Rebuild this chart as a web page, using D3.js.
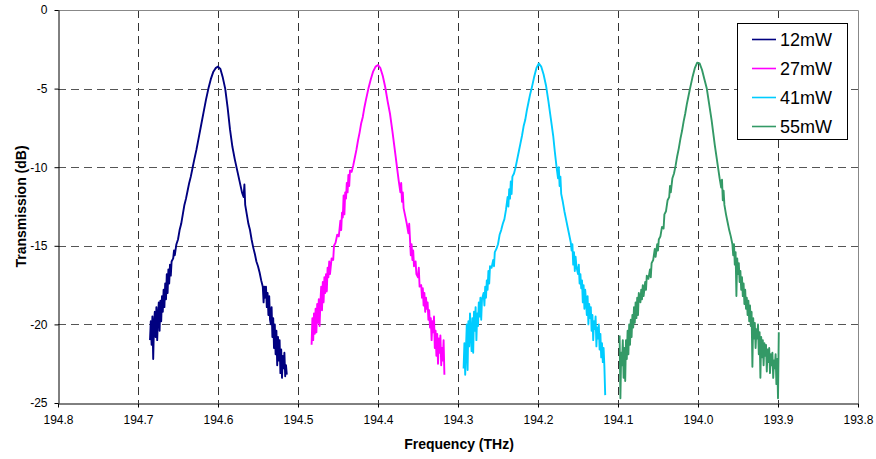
<!DOCTYPE html>
<html><head><meta charset="utf-8">
<script src="https://cdn.jsdelivr.net/npm/d3@7/dist/d3.min.js"></script>
<style>body{margin:0;background:#fff}svg{display:block}</style>
</head><body>
<svg id="c" width="876" height="459"></svg>
<script>
// ---- data (frequency THz, transmission dB) ----
const seriesNames = ["12mW","27mW","41mW","55mW"];
const xTicks = [194.8,194.7,194.6,194.5,194.4,194.3,194.2,194.1,194.0,193.9,193.8];
const xTickLabels = ["194.8","194.7","194.6","194.5","194.4","194.3","194.2","194.1","194.0","193.9","193.8"];
const yTicks = [0,-5,-10,-15,-20,-25];
const yTickLabels = ["0","-5","-10","-15","-20","-25"];

const s12mW = [[194.685,-21.0],[194.684,-19.8],[194.683,-21.3],[194.682,-19.5],[194.681,-22.2],[194.680,-20.0],[194.679,-19.2],[194.678,-20.8],[194.677,-18.9],[194.676,-21.0],[194.675,-19.5],[194.674,-18.6],[194.673,-20.4],[194.672,-18.5],[194.671,-19.8],[194.670,-18.2],[194.669,-19.2],[194.668,-17.8],[194.667,-18.9],[194.666,-17.4],[194.665,-18.4],[194.664,-16.8],[194.663,-18.0],[194.662,-16.5],[194.661,-17.4],[194.660,-16.2],[194.659,-16.9],[194.658,-16.0],[194.656,-15.8],[194.655,-15.3],[194.654,-15.6],[194.652,-14.9],[194.650,-14.6],[194.648,-14.0],[194.646,-13.6],[194.644,-13.0],[194.642,-12.4],[194.640,-12.0],[194.638,-11.5],[194.636,-11.0],[194.634,-10.6],[194.632,-10.1],[194.630,-9.6],[194.627,-8.9],[194.624,-8.1],[194.621,-7.3],[194.618,-6.5],[194.615,-5.7],[194.612,-5.0],[194.609,-4.4],[194.606,-3.95],[194.603,-3.7],[194.600,-3.6],[194.597,-3.75],[194.594,-4.3],[194.591,-5.0],[194.588,-6.2],[194.585,-7.6],[194.582,-8.7],[194.579,-9.5],[194.576,-10.2],[194.573,-10.9],[194.570,-11.6],[194.568,-11.9],[194.567,-11.1],[194.566,-12.4],[194.564,-13.0],[194.562,-13.6],[194.560,-14.0],[194.558,-14.6],[194.556,-15.1],[194.554,-15.5],[194.552,-16.0],[194.550,-16.3],[194.548,-16.7],[194.546,-17.2],[194.544,-17.6],[194.543,-18.6],[194.542,-17.6],[194.541,-18.3],[194.540,-17.6],[194.539,-18.9],[194.538,-18.0],[194.537,-19.4],[194.536,-18.2],[194.535,-19.7],[194.534,-20.0],[194.533,-18.9],[194.532,-20.8],[194.531,-19.6],[194.530,-21.5],[194.529,-20.0],[194.528,-21.9],[194.527,-20.4],[194.526,-22.6],[194.525,-20.8],[194.524,-22.3],[194.523,-21.0],[194.522,-23.1],[194.521,-21.6],[194.520,-23.4],[194.519,-22.0],[194.518,-22.8],[194.517,-21.8],[194.516,-23.3],[194.515,-22.6],[194.514,-23.2]];

const s27mW = [[194.483,-21.3],[194.482,-19.6],[194.481,-21.0],[194.480,-19.3],[194.479,-20.6],[194.478,-19.0],[194.477,-20.5],[194.476,-18.7],[194.475,-19.9],[194.474,-18.4],[194.473,-20.1],[194.472,-18.6],[194.471,-17.6],[194.470,-19.1],[194.469,-17.3],[194.468,-18.6],[194.467,-17.0],[194.466,-18.0],[194.465,-16.8],[194.464,-17.9],[194.463,-16.4],[194.462,-17.0],[194.461,-16.0],[194.460,-16.8],[194.458,-15.8],[194.456,-15.9],[194.455,-15.0],[194.453,-14.8],[194.451,-14.3],[194.449,-14.4],[194.447,-13.4],[194.446,-14.0],[194.445,-12.9],[194.444,-13.2],[194.443,-11.8],[194.442,-13.0],[194.441,-11.6],[194.440,-12.0],[194.439,-11.0],[194.438,-11.6],[194.437,-10.5],[194.436,-11.2],[194.435,-10.2],[194.433,-10.3],[194.431,-9.9],[194.429,-9.4],[194.427,-8.9],[194.425,-8.3],[194.423,-7.8],[194.421,-7.2],[194.419,-6.8],[194.417,-6.2],[194.415,-5.7],[194.412,-5.0],[194.409,-4.4],[194.406,-3.9],[194.403,-3.6],[194.400,-3.5],[194.397,-3.7],[194.394,-4.2],[194.391,-4.9],[194.388,-5.8],[194.385,-6.6],[194.382,-7.7],[194.380,-8.5],[194.378,-9.3],[194.376,-10.1],[194.374,-10.9],[194.372,-11.6],[194.371,-11.0],[194.370,-12.2],[194.369,-11.6],[194.368,-12.6],[194.366,-13.1],[194.364,-13.6],[194.362,-14.2],[194.361,-13.6],[194.360,-14.6],[194.359,-15.6],[194.358,-14.9],[194.357,-15.9],[194.356,-15.3],[194.355,-16.3],[194.353,-16.0],[194.352,-16.8],[194.350,-17.0],[194.349,-16.4],[194.348,-17.6],[194.346,-17.5],[194.345,-18.3],[194.344,-17.7],[194.343,-18.8],[194.342,-18.0],[194.341,-19.2],[194.340,-18.3],[194.339,-19.0],[194.338,-18.6],[194.337,-19.7],[194.336,-19.1],[194.335,-20.2],[194.334,-19.6],[194.333,-21.0],[194.332,-19.8],[194.331,-20.5],[194.330,-19.5],[194.329,-21.5],[194.328,-20.4],[194.327,-22.0],[194.326,-20.6],[194.325,-22.5],[194.324,-20.9],[194.323,-21.8],[194.322,-20.7],[194.321,-22.6],[194.320,-21.5],[194.319,-22.3],[194.318,-21.0],[194.317,-23.2]];

const s41mW = [[194.293,-22.8],[194.292,-21.2],[194.291,-23.2],[194.290,-21.5],[194.289,-20.0],[194.288,-22.9],[194.287,-19.8],[194.286,-21.4],[194.285,-19.3],[194.284,-20.6],[194.283,-21.7],[194.282,-19.6],[194.281,-21.8],[194.280,-19.2],[194.279,-20.4],[194.278,-18.9],[194.277,-21.0],[194.276,-19.3],[194.275,-20.1],[194.274,-18.6],[194.273,-19.5],[194.272,-18.3],[194.271,-19.7],[194.270,-18.4],[194.268,-18.0],[194.267,-18.8],[194.266,-17.6],[194.265,-18.3],[194.264,-17.2],[194.263,-17.8],[194.262,-16.6],[194.261,-17.4],[194.260,-16.3],[194.258,-16.4],[194.256,-15.9],[194.255,-16.3],[194.254,-15.4],[194.252,-15.2],[194.250,-14.9],[194.248,-14.3],[194.246,-14.0],[194.244,-13.6],[194.242,-13.3],[194.240,-12.7],[194.238,-11.9],[194.237,-12.5],[194.236,-11.4],[194.235,-12.0],[194.234,-10.9],[194.233,-11.7],[194.232,-10.6],[194.230,-10.4],[194.228,-10.0],[194.226,-9.5],[194.224,-9.0],[194.222,-8.5],[194.220,-8.0],[194.218,-7.4],[194.216,-7.0],[194.214,-6.4],[194.212,-5.9],[194.210,-5.4],[194.208,-5.0],[194.205,-4.3],[194.202,-3.7],[194.199,-3.4],[194.196,-3.6],[194.193,-4.1],[194.190,-4.8],[194.187,-5.8],[194.184,-6.9],[194.181,-8.0],[194.179,-9.0],[194.177,-9.9],[194.175,-10.7],[194.174,-10.0],[194.173,-11.2],[194.172,-10.6],[194.171,-11.7],[194.169,-12.2],[194.167,-12.8],[194.165,-13.3],[194.163,-13.8],[194.161,-14.3],[194.159,-14.8],[194.158,-15.3],[194.157,-14.9],[194.156,-16.2],[194.155,-15.4],[194.154,-16.6],[194.153,-15.7],[194.152,-16.3],[194.150,-16.8],[194.149,-16.2],[194.148,-17.4],[194.147,-16.8],[194.146,-17.7],[194.145,-17.2],[194.144,-18.6],[194.143,-17.5],[194.142,-19.0],[194.141,-17.8],[194.140,-18.5],[194.139,-19.4],[194.138,-18.2],[194.137,-20.0],[194.136,-18.7],[194.135,-19.6],[194.134,-18.9],[194.133,-20.4],[194.132,-19.4],[194.131,-21.0],[194.130,-19.8],[194.129,-20.3],[194.128,-19.5],[194.127,-21.4],[194.126,-20.2],[194.125,-20.9],[194.124,-20.0],[194.123,-21.6],[194.122,-20.6],[194.121,-22.1],[194.120,-21.2],[194.119,-22.4],[194.118,-21.5],[194.117,-22.7],[194.116,-24.5]];

const s55mW = [[194.098,-20.7],[194.097,-24.7],[194.096,-21.8],[194.095,-22.6],[194.094,-21.0],[194.093,-23.4],[194.092,-21.5],[194.091,-23.6],[194.090,-21.0],[194.089,-22.2],[194.088,-20.4],[194.087,-21.9],[194.086,-20.0],[194.085,-21.3],[194.084,-19.7],[194.083,-20.8],[194.082,-19.4],[194.081,-20.2],[194.080,-18.9],[194.079,-19.9],[194.078,-18.6],[194.077,-19.6],[194.076,-18.3],[194.075,-19.4],[194.074,-18.0],[194.072,-18.6],[194.071,-17.8],[194.070,-18.4],[194.069,-17.5],[194.068,-18.2],[194.066,-17.3],[194.065,-17.8],[194.064,-16.9],[194.062,-17.1],[194.060,-16.5],[194.059,-17.0],[194.058,-16.1],[194.056,-15.9],[194.054,-15.2],[194.053,-15.7],[194.051,-14.9],[194.050,-15.3],[194.049,-14.6],[194.047,-14.4],[194.045,-13.8],[194.043,-13.9],[194.042,-13.0],[194.040,-12.8],[194.038,-12.1],[194.036,-11.9],[194.035,-11.2],[194.034,-11.6],[194.032,-10.7],[194.030,-10.4],[194.028,-9.9],[194.026,-9.3],[194.024,-8.8],[194.022,-8.2],[194.020,-7.7],[194.018,-7.1],[194.016,-6.6],[194.014,-6.0],[194.012,-5.5],[194.010,-5.0],[194.007,-4.3],[194.004,-3.7],[194.001,-3.35],[193.998,-3.4],[193.995,-3.8],[193.992,-4.4],[193.989,-5.0],[193.986,-6.0],[193.983,-7.0],[193.981,-7.8],[193.979,-8.6],[193.977,-9.3],[193.975,-10.0],[193.973,-10.7],[193.971,-11.3],[193.970,-10.8],[193.969,-12.1],[193.968,-11.5],[193.967,-12.4],[193.965,-13.0],[193.963,-13.5],[193.961,-14.0],[193.959,-14.4],[193.957,-14.9],[193.956,-15.6],[193.955,-14.9],[193.954,-16.2],[193.953,-15.4],[193.952,-18.2],[193.951,-15.8],[193.950,-16.8],[193.949,-16.1],[193.948,-17.3],[193.947,-16.6],[193.946,-17.8],[193.945,-17.0],[193.944,-18.2],[193.943,-17.4],[193.942,-18.7],[193.941,-17.8],[193.940,-19.0],[193.939,-18.3],[193.938,-19.4],[193.937,-18.5],[193.936,-19.8],[193.935,-18.8],[193.934,-20.1],[193.933,-19.2],[193.932,-22.7],[193.931,-19.6],[193.930,-20.9],[193.929,-19.9],[193.928,-21.5],[193.927,-20.3],[193.926,-20.9],[193.925,-20.0],[193.924,-21.9],[193.923,-20.5],[193.922,-23.4],[193.921,-20.8],[193.920,-22.1],[193.919,-21.0],[193.918,-22.6],[193.917,-21.2],[193.916,-22.0],[193.915,-21.3],[193.914,-23.0],[193.913,-21.6],[193.912,-22.4],[193.911,-21.5],[193.910,-23.1],[193.909,-21.9],[193.908,-22.6],[193.907,-21.8],[193.906,-23.4],[193.905,-22.3],[193.904,-22.8],[193.903,-21.9],[193.902,-23.8],[193.901,-22.2],[193.900,-24.7],[193.899,-20.5]];

const seriesData = [s12mW, s27mW, s41mW, s55mW];
const colors = ["#000080","#FF00FF","#00CCFF","#339966"];

// ---- layout ----
const svg = d3.select("#c");
const L = 58, R = 858, T = 10, B = 403;
const x = d3.scaleLinear().domain([194.8,193.8]).range([L,R]);
const y = d3.scaleLinear().domain([0,-25]).range([T,B]);
const font = "Arial, 'Liberation Sans', Helvetica, sans-serif";

// grid
const g = svg.append("g");
g.selectAll(".vg").data(xTicks.slice(1,-1)).join("line")
  .attr("x1",d=>Math.round(x(d))+0.5).attr("x2",d=>Math.round(x(d))+0.5)
  .attr("y1",T).attr("y2",B)
  .attr("stroke","#333").attr("stroke-width",1).attr("stroke-dasharray","8,5");
g.selectAll(".hg").data(yTicks.slice(1,-1)).join("line")
  .attr("y1",d=>Math.round(y(d))+0.5).attr("y2",d=>Math.round(y(d))+0.5)
  .attr("x1",L).attr("x2",R)
  .attr("stroke","#555").attr("stroke-width",1).attr("stroke-dasharray","8,5");
// top/right border
svg.append("path").attr("d",`M${L},${T+0.5}H${R+0.5}V${B}`).attr("fill","none").attr("stroke","#888").attr("stroke-width",1);

// curves
const line = d3.line().x(d=>x(d[0])).y(d=>y(d[1]));
seriesData.forEach((s,i)=>{
  svg.append("path").datum(s).attr("d",line).attr("fill","none")
    .attr("stroke",colors[i]).attr("stroke-width",1.9).attr("stroke-linejoin","round");
});

// axes
const xAxis = d3.axisBottom(x).tickValues(xTicks).tickFormat((d,i)=>xTickLabels[i]).tickSize(4).tickSizeOuter(0);
const xa = svg.append("g").attr("transform",`translate(0,${B+0.5})`).call(xAxis);
xa.select(".domain").attr("stroke","#000");
xa.selectAll(".tick line").attr("stroke","#000");
xa.selectAll("text").attr("font-family",font).attr("font-size",12).attr("fill","#000").attr("dy","1.1em");

const yAxis = d3.axisLeft(y).tickValues(yTicks).tickFormat((d,i)=>yTickLabels[i]).tickSize(4).tickSizeOuter(0);
const ya = svg.append("g").attr("transform",`translate(${L+0.5},0)`).call(yAxis);
ya.select(".domain").attr("stroke","#000");
ya.selectAll(".tick line").attr("stroke","#000");
ya.selectAll("text").attr("font-family",font).attr("font-size",12).attr("fill","#000").attr("x",-11);

// titles
svg.append("text").attr("x",(L+R)/2+1).attr("y",449).attr("text-anchor","middle")
  .attr("font-family",font).attr("font-weight","bold").attr("font-size",14).text("Frequency (THz)");
svg.append("text").attr("transform",`translate(26,${(T+B)/2}) rotate(-90)`).attr("text-anchor","middle")
  .attr("font-family",font).attr("font-weight","bold").attr("font-size",14).text("Transmission (dB)");

// legend
const lg = svg.append("g");
lg.append("rect").attr("x",737.5).attr("y",23.5).attr("width",110).attr("height",116)
  .attr("fill","#fff").attr("stroke","#000").attr("stroke-width",1);
seriesNames.forEach((n,i)=>{
  const yy = 39.5 + i*29;
  lg.append("line").attr("x1",752).attr("x2",776).attr("y1",yy).attr("y2",yy)
    .attr("stroke",colors[i]).attr("stroke-width",1.6);
  lg.append("text").attr("x",780).attr("y",yy).attr("dy","0.36em")
    .attr("font-family",font).attr("font-size",18).text(n);
});
</script>
</body></html>
